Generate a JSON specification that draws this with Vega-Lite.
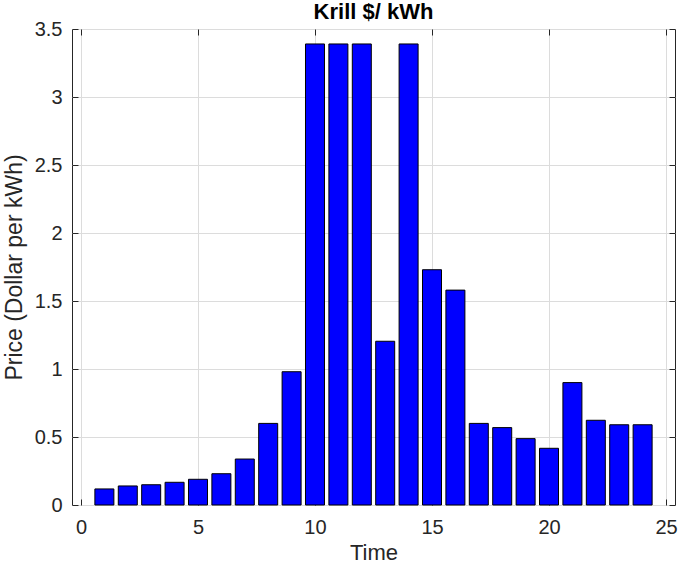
{
  "$schema": "https://vega.github.io/schema/vega-lite/v6.json",
  "autosize": "none",
  "padding": {"left": 72, "top": 29, "right": 10, "bottom": 61},
  "width": 603,
  "height": 476,
  "background": "white",
  "config": {
    "font": "Liberation Sans",
    "view": {"stroke": "#262626", "strokeWidth": 1}
  },
  "title": {
    "text": "Krill $/ kWh",
    "fontSize": 22,
    "fontWeight": "bold",
    "color": "#000000",
    "offset": 0,
    "dy": 5,
    "font": "Liberation Sans"
  },
  "data": {
    "values": [
      {"Time": 1, "Price": 0.118},
      {"Time": 2, "Price": 0.14},
      {"Time": 3, "Price": 0.149},
      {"Time": 4, "Price": 0.167},
      {"Time": 5, "Price": 0.189},
      {"Time": 6, "Price": 0.23},
      {"Time": 7, "Price": 0.338},
      {"Time": 8, "Price": 0.6},
      {"Time": 9, "Price": 0.98},
      {"Time": 10, "Price": 3.39},
      {"Time": 11, "Price": 3.39},
      {"Time": 12, "Price": 3.39},
      {"Time": 13, "Price": 1.204},
      {"Time": 14, "Price": 3.39},
      {"Time": 15, "Price": 1.73},
      {"Time": 16, "Price": 1.58},
      {"Time": 17, "Price": 0.6},
      {"Time": 18, "Price": 0.569},
      {"Time": 19, "Price": 0.488},
      {"Time": 20, "Price": 0.417},
      {"Time": 21, "Price": 0.9},
      {"Time": 22, "Price": 0.623},
      {"Time": 23, "Price": 0.59},
      {"Time": 24, "Price": 0.59}
    ]
  },
  "layer": [
    {
      "mark": {"type": "bar", "size": 19, "color": "#0000ff", "stroke": "#000000", "strokeWidth": 1},
      "encoding": {
        "x": {
          "field": "Time", "type": "quantitative",
          "scale": {"domain": [-0.17, 25.17], "nice": false, "zero": false},
          "axis": {
            "title": "Time", "titleFontSize": 22, "titleFontWeight": "normal", "titleColor": "#262626", "titlePadding": 5,
            "values": [0, 5, 10, 15, 20, 25], "format": "~g",
            "labelFontSize": 20, "labelColor": "#262626", "labelPadding": 18,
            "grid": true, "gridColor": "#dcdcdc", "gridWidth": 1,
            "domain": false, "tickColor": "#262626", "tickSize": -6, "tickWidth": 1
          }
        },
        "y": {
          "field": "Price", "type": "quantitative",
          "scale": {"domain": [0, 3.5], "nice": false},
          "axis": {
            "title": "Price (Dollar per kWh)", "titleFontSize": 23, "titleFontWeight": "normal", "titleColor": "#262626", "titlePadding": 8,
            "values": [0, 0.5, 1, 1.5, 2, 2.5, 3, 3.5], "format": "~g",
            "labelFontSize": 20, "labelColor": "#262626", "labelPadding": 16,
            "grid": true, "gridColor": "#dcdcdc", "gridWidth": 1,
            "domain": false, "tickColor": "#262626", "tickSize": -6, "tickWidth": 1
          }
        }
      }
    },
    {
      "mark": {"type": "rule", "opacity": 0},
      "encoding": {
        "x": {"field": "Time", "type": "quantitative",
          "axis": {"orient": "top", "title": null, "labels": false, "values": [0, 5, 10, 15, 20, 25], "grid": false, "domain": false, "tickColor": "#262626", "tickSize": -6}},
        "y": {"field": "Price", "type": "quantitative",
          "axis": {"orient": "right", "title": null, "labels": false, "values": [0, 0.5, 1, 1.5, 2, 2.5, 3, 3.5], "grid": false, "domain": false, "tickColor": "#262626", "tickSize": -6}}
      }
    }
  ],
  "resolve": {"axis": {"x": "independent", "y": "independent"}}
}
